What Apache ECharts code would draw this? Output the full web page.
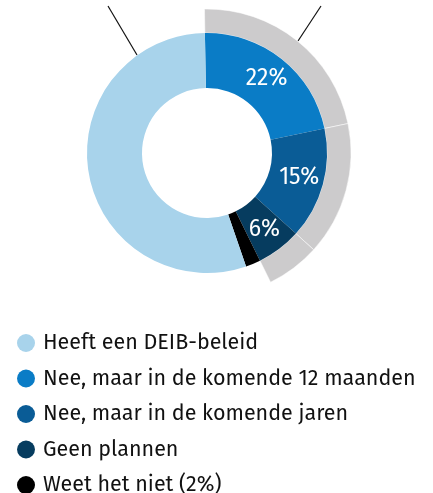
<!DOCTYPE html>
<html>
<head>
<meta charset="utf-8">
<script src="https://cdn.jsdelivr.net/npm/echarts@6/dist/echarts.min.js"></script>
<style>
  html, body { margin: 0; padding: 0; background: #fff; }
  #mChart { width: 433px; height: 493px; }
</style>
</head>
<body>
<div id="mChart"></div>
<script>
  // categories in clockwise order from the top
  var categories = ['Nee, maar in de komende 12 maanden', 'Nee, maar in de komende jaren', 'Geen plannen', 'Weet het niet (2%)', 'Heeft een DEIB-beleid'];
  var values = [22, 15, 6, 2, 55];
  var colors = ['#0a7cc6', '#0a5c96', '#063c5f', '#000000', '#a8d3eb'];
  var showLabel = [true, true, true, false, false];
  // legend order as in the picture
  var legendOrder = ['Heeft een DEIB-beleid', 'Nee, maar in de komende 12 maanden', 'Nee, maar in de komende jaren', 'Geen plannen', 'Weet het niet (2%)'];
  // outer grey ring covers the "Nee" groups
  var ringValues = [22, 15, 6];

  var font = "'Fira Sans', 'Open Sans', sans-serif";

  var mainData = categories.map(function (c, i) {
    return {
      name: c,
      value: values[i],
      itemStyle: { color: colors[i] },
      label: { show: showLabel[i] }
    };
  });

  var ringTotal = 0;
  var ringData = ringValues.map(function (v, i) {
    ringTotal += v;
    return { name: 'ring' + i, value: v, itemStyle: { color: '#cccbcc' } };
  });
  var allTotal = values.reduce(function (a, b) { return a + b; }, 0);
  ringData.push({ name: 'rest', value: allTotal - ringTotal, itemStyle: { color: 'transparent', borderWidth: 0 } });

  var myChart = echarts.init(document.getElementById('mChart'));
  myChart.setOption({
    animation: false,
    legend: {
      data: legendOrder,
      orient: 'vertical',
      left: 17,
      top: 332,
      height: 220,
      padding: 0,
      icon: 'circle',
      itemWidth: 18,
      itemHeight: 18,
      itemGap: 13.5,
      selectedMode: false,
      textStyle: { fontFamily: font, fontSize: 21.5, color: '#111', lineHeight: 20, padding: [0, 0, 0, 3] }
    },
    graphic: [
      { type: 'line', shape: { x1: 108, y1: 6, x2: 137, y2: 55 }, style: { stroke: '#111', lineWidth: 1.2 } },
      { type: 'line', shape: { x1: 321, y1: 6, x2: 298, y2: 41 }, style: { stroke: '#111', lineWidth: 1.2 } }
    ],
    series: [
      {
        type: 'pie',
        center: [207, 153],
        radius: [120, 144],
        startAngle: 91,
        clockwise: true,
        silent: true,
        label: { show: false },
        labelLine: { show: false },
        itemStyle: { borderColor: 'rgba(255,255,255,0.5)', borderWidth: 1 },
        data: ringData
      },
      {
        type: 'pie',
        center: [207, 153],
        radius: [65, 120],
        startAngle: 91,
        clockwise: true,
        silent: true,
        label: {
          position: 'inside',
          color: '#fff',
          fontFamily: font,
          fontSize: 23,
          formatter: '{c}%'
        },
        labelLine: { show: false },
        data: mainData
      }
    ]
  });
</script>
</body>
</html>
